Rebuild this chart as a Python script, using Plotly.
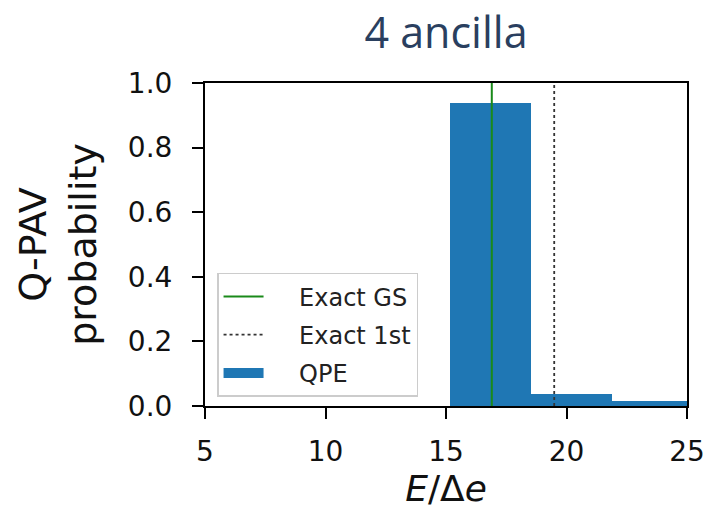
import plotly.graph_objects as go

# Data
bin_centers = [16.845, 20.20, 23.56]
probs = [0.937, 0.036, 0.017]
bar_width = 3.355
exact_gs = 16.9
exact_1st = 19.49
x_ticks = [5, 10, 15, 20, 25]
y_ticks = [0.0, 0.2, 0.4, 0.6, 0.8, 1.0]

pad = "\u00a0" * 4
bar_color = "#1f77b4"

fig = go.Figure()
fig.add_trace(go.Scatter(x=[exact_gs, exact_gs], y=[0, 1], mode="lines",
                         line=dict(color="#1a8a1a", width=2), name=pad + "Exact GS",
                         legendgroup="a"))
fig.add_trace(go.Scatter(x=[exact_1st, exact_1st], y=[0, 1], mode="lines",
                         line=dict(color="#333333", width=1.8, dash="dot"), name=pad + "Exact 1st",
                         legendgroup="b"))
fig.add_trace(go.Bar(x=bin_centers, y=probs, width=[bar_width]*len(probs),
                     marker=dict(color=bar_color, line=dict(width=0)), name="QPE",
                     showlegend=False))
# legend entry for the bars (wide rectangle swatch)
fig.add_trace(go.Scatter(x=[None], y=[None], mode="lines",
                         line=dict(color=bar_color, width=16), name=pad + "QPE",
                         legendgroup="c", hoverinfo="skip"))

axis_common = dict(showgrid=False, zeroline=False, showline=True, linecolor="black",
                   linewidth=2, mirror=True, ticks="outside", ticklen=11, tickwidth=2,
                   tickcolor="black", automargin=False,
                   tickfont=dict(family="DejaVu Sans", size=28, color="#111111"))

fig.update_layout(
    width=707, height=513,
    margin=dict(l=205, r=20, t=83, b=107),
    paper_bgcolor="white", plot_bgcolor="white",
    title=dict(text="4 ancilla", x=0.5, xref="paper", xanchor="center",
               y=0.936, yanchor="middle",
               font=dict(family="Open Sans", size=43, color="#2a3f5f")),
    xaxis=dict(range=[5, 25], tickvals=x_ticks, ticktext=[str(t) for t in x_ticks],
               ticklabelstandoff=8,
               title=dict(text="<i>E</i>/Δ<i>e</i>", font=dict(family="DejaVu Sans", size=36, color="#111111"),
                          standoff=2),
               **axis_common),
    yaxis=dict(range=[0, 1], tickvals=y_ticks, ticktext=[f"{t:.1f}" for t in y_ticks],
               ticklabelstandoff=14,
               title=dict(text="Q-PAV<br>probability", font=dict(family="DejaVu Sans", size=38, color="#111111"),
                          standoff=20),
               **axis_common),
    legend=dict(x=0.025, y=0.412, xanchor="left", yanchor="top",
                bgcolor="white", bordercolor="#cccccc", borderwidth=1.5,
                font=dict(family="DejaVu Sans", size=24, color="#222222"),
                traceorder="grouped", tracegroupgap=4,
                itemwidth=40),
    showlegend=True,
    bargap=0,
)

fig.write_html("out.html")
